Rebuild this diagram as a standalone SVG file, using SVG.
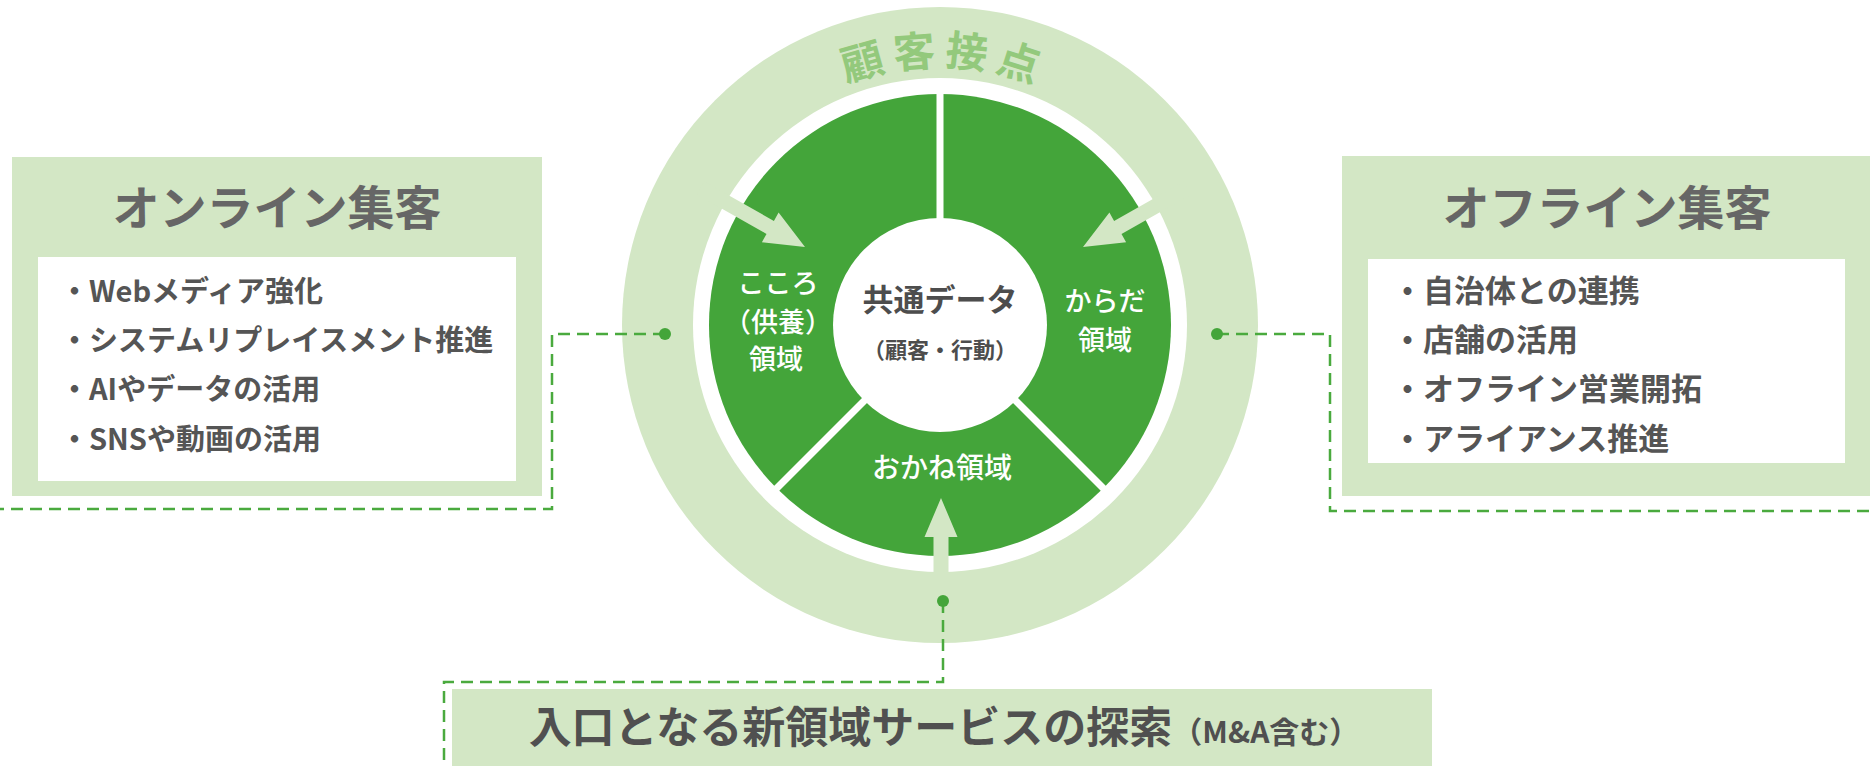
<svg xmlns="http://www.w3.org/2000/svg" width="1870" height="766" viewBox="0 0 1870 766">
  <defs>
    <style>
      .light { fill: #d3e7c5; }
      .green { fill: #44a53a; }
      .white { fill: #ffffff; }
      .dash { fill: none; stroke: #4aaa3e; stroke-width: 2.5; stroke-dasharray: 12 7; }
      .dot { fill: #44a53a; }
      .div { stroke: #ffffff; stroke-width: 7; }
      .title { font-family: "Noto Sans CJK JP", "Noto Sans", sans-serif; font-weight: 700; font-size: 47px; fill: #666666; text-anchor: middle; }
      .itemL { font-family: "Noto Sans CJK JP", "Noto Sans", sans-serif; font-weight: 700; font-size: 29px; fill: #555555; }
      .itemR { font-family: "Noto Sans CJK JP", "Noto Sans", sans-serif; font-weight: 700; font-size: 31px; fill: #555555; }
      .seg { font-family: "Noto Sans CJK JP", "Noto Sans", sans-serif; font-weight: 500; font-size: 27px; fill: #ffffff; text-anchor: middle; }
      .core { font-family: "Noto Sans CJK JP", "Noto Sans", sans-serif; font-weight: 700; fill: #4d4d4d; text-anchor: middle; }
      .arc { font-family: "Noto Sans CJK JP", "Noto Sans", sans-serif; font-weight: 700; font-size: 42px; fill: #93c97c; letter-spacing: 8px; }
      .bottom { font-family: "Noto Sans CJK JP", "Noto Sans", sans-serif; font-weight: 700; fill: #505050; text-anchor: middle; }
    </style>
    <path id="arcPath" d="M681,325 A259,259 0 0 1 1199,325"/>
  </defs>

  <g id="online-box">
    <rect class="light" x="12" y="157" width="530" height="339"/>
    <rect class="white" x="38" y="257" width="478" height="224"/>
    <text class="title" x="277" y="225">オンライン集客</text>
    <text class="itemL" x="60" y="302">・Webメディア強化</text>
    <text class="itemL" x="60" y="351">・システムリプレイスメント推進</text>
    <text class="itemL" x="60" y="400">・AIやデータの活用</text>
    <text class="itemL" x="60" y="450">・SNSや動画の活用</text>
  </g>

  <g id="offline-box">
    <rect class="light" x="1342" y="156" width="528" height="340"/>
    <rect class="white" x="1368" y="259" width="477" height="204"/>
    <text class="title" x="1607" y="225">オフライン集客</text>
    <text class="itemR" x="1392" y="302">・自治体との連携</text>
    <text class="itemR" x="1392" y="351">・店舗の活用</text>
    <text class="itemR" x="1392" y="400">・オフライン営業開拓</text>
    <text class="itemR" x="1392" y="450">・アライアンス推進</text>
  </g>

  <g id="customer-contact">
    <circle class="light" cx="940" cy="325" r="318"/>
    <circle class="white" cx="940" cy="325" r="247"/>
    <text class="arc"><textPath href="#arcPath" startOffset="411" text-anchor="middle">顧客接点</textPath></text>
  </g>

  <g id="domains">
    <circle class="green" cx="940" cy="325" r="231"/>
    <line class="div" x1="940" y1="325" x2="940" y2="88"/>
    <line class="div" x1="940" y1="325" x2="770" y2="495"/>
    <line class="div" x1="940" y1="325" x2="1110" y2="495"/>
  </g>

  <g id="kokoro">
    <text class="seg" x="778" y="293">こころ</text>
    <text class="seg" x="778" y="332">（供養）</text>
    <text class="seg" x="776" y="369">領域</text>
  </g>

  <g id="karada">
    <text class="seg" x="1105" y="311">からだ</text>
    <text class="seg" x="1105" y="350">領域</text>
  </g>

  <g id="okane">
    <text class="seg" x="942" y="478" style="font-size:28px">おかね領域</text>
  </g>

  <g id="common-data">
    <circle class="white" cx="940" cy="325" r="107"/>
    <text class="core" x="940" y="311" style="font-size:31px">共通データ</text>
    <text class="core" x="940" y="358" style="font-size:22px">（顧客・行動）</text>
  </g>

  <g id="arrows">
    <polygon class="light" points="704.2,181.6 773.9,220.9 778.6,212.6 805,247 761.9,242.2 766.5,233.9 696.8,194.6"/>
    <polygon class="light" points="1183.8,181.6 1114.1,220.9 1109.4,212.6 1083,247 1126.1,242.2 1121.5,233.9 1191.2,194.6"/>
    <polygon class="light" points="933.5,592 933.5,537 924.5,537 941,498 957.5,537 948.5,537 948.5,592"/>
  </g>

  <g id="new-domain-box">
    <rect class="light" x="452" y="689" width="980" height="80"/>
    <text class="bottom" x="944" y="743" style="font-size:43px">入口となる新領域サービスの探索<tspan style="font-size:30px">（M&amp;A含む）</tspan></text>
  </g>

  <g id="connectors">
    <path class="dash" d="M665,334 H552 V509 H0"/>
    <path class="dash" d="M1217,334 H1330 V511 H1870"/>
    <path class="dash" d="M943,601 V682 H444 V766"/>
    <circle class="dot" cx="665" cy="334" r="6"/>
    <circle class="dot" cx="1217" cy="334" r="6"/>
    <circle class="dot" cx="943" cy="601" r="6"/>
  </g>
</svg>
